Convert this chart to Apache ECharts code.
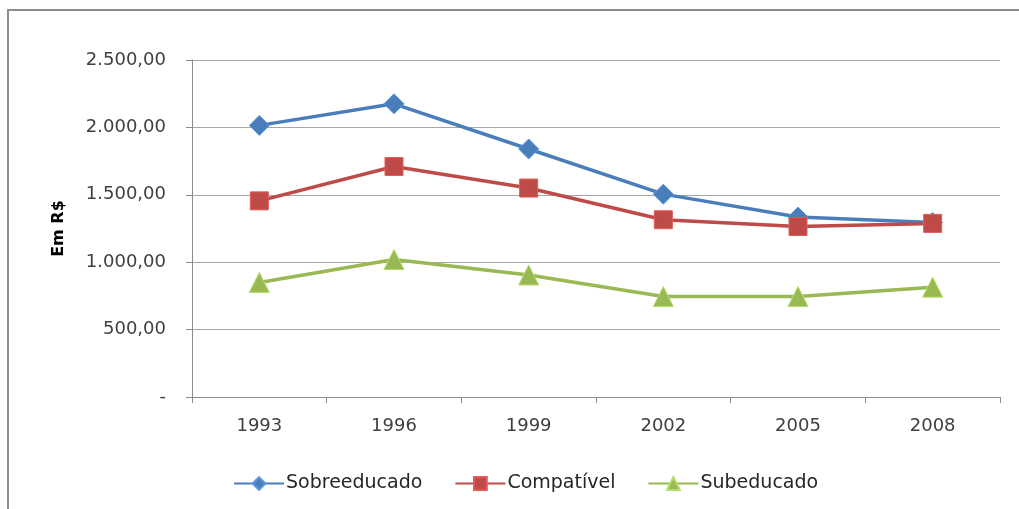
<!DOCTYPE html>
<html>
<head>
<meta charset="utf-8">
<style>
  html, body { margin: 0; padding: 0; background: #fff; overflow: hidden; }
  #main { width: 1019px; height: 509px; }
</style>
<script src="https://cdn.jsdelivr.net/npm/echarts@6/dist/echarts.min.js"></script>
</head>
<body>
<div id="main"></div>
<script>
  var years = ['1993', '1996', '1999', '2002', '2005', '2008'];
  var sobreeducado = [2015, 2175, 1840, 1505, 1335, 1295];
  var compativel = [1455, 1710, 1550, 1315, 1265, 1288];
  var subeducado = [850, 1020, 905, 745, 745, 815];

  function formatBR(v) {
    if (v === 0) return '-';
    var s = Math.round(v).toString().replace(/\B(?=(\d{3})+(?!\d))/g, '.');
    return s + ',00';
  }

  var myChart = echarts.init(document.getElementById('main'));

  var labelFont = { fontFamily: 'DejaVu Sans', fontSize: 18, color: '#404040' };

  function lineSeries(name, data, color, symbol, size) {
    return {
      name: name,
      type: 'line',
      data: data,
      symbol: symbol,
      symbolSize: size,
      showAllSymbol: true,
      lineStyle: { color: color, width: 3.5 },
      itemStyle: { color: color, borderColor: echarts.color.lift(color, -0.2), borderWidth: 1 },
      emphasis: { disabled: true }
    };
  }

  var option = {
    animation: false,
    backgroundColor: '#fff',
    graphic: [
      // outer frame: only top and left edges are visible in the source
      { type: 'rect', shape: { x: 7, y: 9, width: 1012, height: 2 }, style: { fill: '#8c8c8c' } },
      { type: 'rect', shape: { x: 7, y: 9, width: 2, height: 500 }, style: { fill: '#8c8c8c' } }
    ],
    legend: {
      bottom: 11,
      left: 228,
      itemWidth: 50,
      itemHeight: 16,
      itemGap: 32,
      textStyle: { fontFamily: 'DejaVu Sans', fontSize: 19, color: '#262626', padding: [0, 0, 0, -3] },
      data: ['Sobreeducado', 'Compatível', 'Subeducado']
    },
    grid: {
      left: 192,
      right: 19,
      top: 60,
      bottom: 112
    },
    xAxis: {
      type: 'category',
      data: years,
      boundaryGap: true,
      axisLine: { lineStyle: { color: '#8c8c8c', width: 1 } },
      axisTick: { show: true, length: 6, lineStyle: { color: '#8c8c8c' } },
      axisLabel: Object.assign({ margin: 20 }, labelFont)
    },
    yAxis: {
      type: 'value',
      min: 0,
      max: 2500,
      interval: 500,
      name: 'Em R$',
      nameLocation: 'middle',
      nameGap: 125,
      nameTextStyle: { fontFamily: 'DejaVu Sans', fontSize: 16, fontWeight: 'bold', color: '#000' },
      axisLine: { show: true, lineStyle: { color: '#8c8c8c' } },
      axisTick: { show: true, length: 6, lineStyle: { color: '#8c8c8c' } },
      axisLabel: Object.assign({ margin: 26, formatter: formatBR }, labelFont),
      splitLine: { lineStyle: { color: '#a6a6a6', width: 1 } }
    },
    series: [
      lineSeries('Sobreeducado', sobreeducado, '#4a7ebb', 'diamond', 20),
      lineSeries('Compatível', compativel, '#be4b48', 'rect', 18),
      lineSeries('Subeducado', subeducado, '#98b954', 'triangle', 20)
    ]
  };

  myChart.setOption(option);
</script>
</body>
</html>
